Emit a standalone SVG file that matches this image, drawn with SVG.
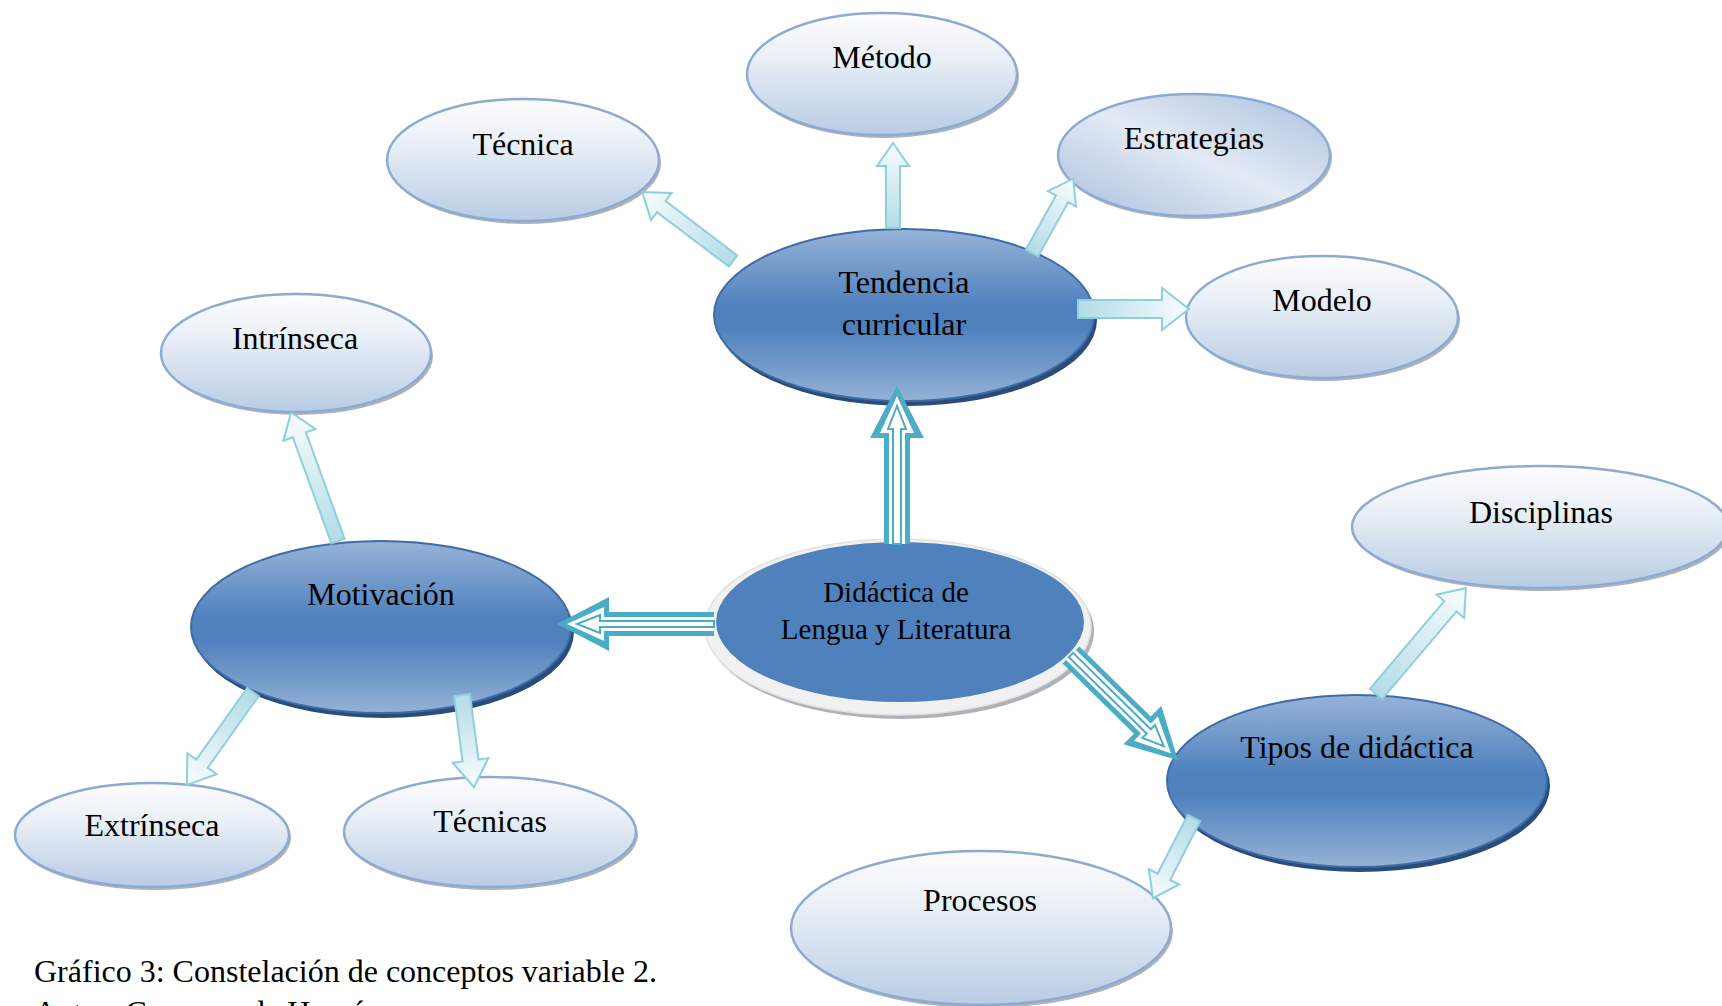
<svg xmlns="http://www.w3.org/2000/svg" width="1722" height="1006" viewBox="0 0 1722 1006">
<defs>
<linearGradient id="lightGrad" x1="0" y1="0" x2="0" y2="1">
<stop offset="0" stop-color="#fdfdfe"/>
<stop offset="0.35" stop-color="#eaf0f7"/>
<stop offset="1" stop-color="#b8cce4"/>
</linearGradient>
<linearGradient id="estrGrad" x1="0" y1="1" x2="1" y2="0">
<stop offset="0" stop-color="#a9bfde"/>
<stop offset="0.5" stop-color="#e3eaf4"/>
<stop offset="1" stop-color="#a9bfde"/>
</linearGradient>
<linearGradient id="darkGrad" x1="0" y1="0" x2="0" y2="1">
<stop offset="0" stop-color="#96b3d8"/>
<stop offset="0.45" stop-color="#4f81bd"/>
<stop offset="0.58" stop-color="#4f81bd"/>
<stop offset="1" stop-color="#94b2d7"/>
</linearGradient>
<linearGradient id="thinGrad" x1="0" y1="0" x2="1" y2="0">
<stop offset="0" stop-color="#b3dce7"/>
<stop offset="1" stop-color="#f8fcfd"/>
</linearGradient>
</defs>
<style>
.light{fill:url(#lightGrad);stroke:#8eaad4;stroke-width:2.5}
.estr{fill:url(#estrGrad);stroke:#8eaad4;stroke-width:2.5}
.dark{fill:url(#darkGrad);stroke:#3e6ca6;stroke-width:2}
.lshadow{fill:#aeb3b8}
.dshadow{fill:#2b4c78}
.t{font-family:"Liberation Serif","Times New Roman",serif;font-size:32px;fill:#000;text-anchor:middle}
.tc{font-family:"Liberation Serif","Times New Roman",serif;font-size:29px;fill:#000;text-anchor:middle}
.cap{font-family:"Liberation Serif","Times New Roman",serif;font-size:32px;fill:#000}
.thin{fill:url(#thinGrad);stroke:#8fcfdd;stroke-width:2;stroke-linejoin:miter}
.bigo{fill:#4bacc6}
.bigw{fill:#ffffff}
.bigi{fill:#ffffff;stroke:#4bacc6;stroke-width:2}
</style>

<g id="node-metodo">
<ellipse class="lshadow" cx="884" cy="77" rx="135" ry="61"/>
<ellipse class="light" cx="882" cy="74" rx="135" ry="61"/>
<text class="t" x="882" y="68">Método</text>
</g>
<g id="node-tecnica">
<ellipse class="lshadow" cx="525" cy="163" rx="136" ry="61"/>
<ellipse class="light" cx="523" cy="160" rx="136" ry="61"/>
<text class="t" x="523" y="155">Técnica</text>
</g>
<g id="node-estrategias">
<ellipse class="lshadow" cx="1196" cy="158" rx="136" ry="61"/>
<ellipse class="estr" cx="1194" cy="155" rx="136" ry="61"/>
<text class="t" x="1194" y="149">Estrategias</text>
</g>
<g id="node-modelo">
<ellipse class="lshadow" cx="1324" cy="320" rx="136" ry="61"/>
<ellipse class="light" cx="1322" cy="317" rx="136" ry="61"/>
<text class="t" x="1322" y="311">Modelo</text>
</g>
<g id="node-tendencia">
<ellipse class="dshadow" cx="907" cy="320" rx="190" ry="86"/>
<ellipse class="dark" cx="904" cy="315" rx="190" ry="86"/>
<text class="t" x="904" y="293">Tendencia</text>
<text class="t" x="904" y="335">curricular</text>
</g>
<g id="node-intrinseca">
<ellipse class="lshadow" cx="298" cy="356" rx="135" ry="59"/>
<ellipse class="light" cx="296" cy="353" rx="135" ry="59"/>
<text class="t" x="295" y="349">Intrínseca</text>
</g>
<g id="node-motivacion">
<ellipse class="dshadow" cx="384" cy="632" rx="190" ry="86"/>
<ellipse class="dark" cx="381" cy="627" rx="190" ry="86"/>
<text class="t" x="381" y="605">Motivación</text>
</g>
<g id="node-didactica">
<ellipse class="lshadow" cx="901" cy="631" rx="193" ry="88"/>
<ellipse cx="898" cy="627" rx="193" ry="88" fill="#f1f1f1" stroke="#e2e2e2" stroke-width="1.5"/>
<ellipse cx="900" cy="622" rx="184" ry="80" fill="#4f81bd"/>
<text class="tc" x="896" y="602">Didáctica de</text>
<text class="tc" x="896" y="639">Lengua y Literatura</text>
</g>
<g id="node-disciplinas">
<ellipse class="lshadow" cx="1542" cy="530" rx="188" ry="61"/>
<ellipse class="light" cx="1540" cy="527" rx="188" ry="61"/>
<text class="t" x="1541" y="523">Disciplinas</text>
</g>
<g id="node-tipos">
<ellipse class="dshadow" cx="1360" cy="786" rx="190" ry="86"/>
<ellipse class="dark" cx="1357" cy="781" rx="190" ry="86"/>
<text class="t" x="1357" y="758">Tipos de didáctica</text>
</g>
<g id="node-procesos">
<ellipse class="lshadow" cx="983" cy="931" rx="190" ry="77"/>
<ellipse class="light" cx="981" cy="928" rx="190" ry="77"/>
<text class="t" x="980" y="911">Procesos</text>
</g>
<g id="node-extrinseca">
<ellipse class="lshadow" cx="154" cy="838" rx="137" ry="52"/>
<ellipse class="light" cx="152" cy="835" rx="137" ry="52"/>
<text class="t" x="152" y="836">Extrínseca</text>
</g>
<g id="node-tecnicas">
<ellipse class="lshadow" cx="492" cy="835" rx="146" ry="55"/>
<ellipse class="light" cx="490" cy="832" rx="146" ry="55"/>
<text class="t" x="490" y="832">Técnicas</text>
</g>

<g id="connectors">
<g transform="translate(733,261) rotate(-142.8)">
<polygon class="thin" points="0,-7 90,-7 90,-17 114,0 90,17 90,7 0,7"/>
</g>
<g transform="translate(893,228) rotate(-90)">
<polygon class="thin" points="0,-7 62,-7 62,-16 85,0 62,16 62,7 0,7"/>
</g>
<g transform="translate(1032,253) rotate(-61)">
<polygon class="thin" points="0,-7 62,-7 62,-16 85,0 62,16 62,7 0,7"/>
</g>
<g transform="translate(1078,309) rotate(0)">
<polygon class="thin" points="0,-9 84,-9 84,-21 111,0 84,21 84,9 0,9"/>
</g>
<g transform="translate(338,541) rotate(-110)">
<polygon class="thin" points="0,-7 113,-7 113,-17 137,0 113,17 113,7 0,7"/>
</g>
<g transform="translate(253,692) rotate(125.4)">
<polygon class="thin" points="0,-7 88,-7 88,-18 114,0 88,18 88,7 0,7"/>
</g>
<g transform="translate(462,695) rotate(82.6)">
<polygon class="thin" points="0,-8 66,-8 66,-18 93,0 66,18 66,8 0,8"/>
</g>
<g transform="translate(1376,694) rotate(-49.7)">
<polygon class="thin" points="0,-8 115,-8 115,-18 139,0 115,18 115,8 0,8"/>
</g>
<g transform="translate(1194,818) rotate(117.1)">
<polygon class="thin" points="0,-7 66,-7 66,-17 90,0 66,17 66,7 0,7"/>
</g>
<g transform="translate(897,544) rotate(-90)">
<polygon class="bigo" points="0,-13 106,-13 106,-27 158,0 106,27 106,13 0,13"/>
<polygon class="bigw" points="0,-8 111,-8 111,-17 148,0 111,17 111,8 0,8"/>
<polygon class="bigi" points="0,-4 115,-4 115,-9 138,0 115,9 115,4 0,4"/>
</g>
<g transform="translate(714,624) rotate(180)">
<polygon class="bigo" points="0,-12 105,-12 105,-27 157,0 105,27 105,12 0,12"/>
<polygon class="bigw" points="0,-7 110,-7 110,-17 147,0 110,17 110,7 0,7"/>
<polygon class="bigi" points="0,-3 114,-3 114,-9 137,0 114,9 114,3 0,3"/>
</g>
<g transform="translate(1071,655) rotate(44.5)">
<polygon class="bigo" points="0,-12 100,-12 100,-27 150,0 100,27 100,12 0,12"/>
<polygon class="bigw" points="0,-7 105,-7 105,-17 140,0 105,17 105,7 0,7"/>
<polygon class="bigi" points="0,-3 109,-3 109,-9 130,0 109,9 109,3 0,3"/>
</g>
</g>

<g id="caption">
<text class="cap" x="34" y="982">Gráfico 3: Constelación de conceptos variable 2.</text>
<text class="cap" x="34" y="1023">Autor: Carranza de Hernán</text>
</g>
</svg>
